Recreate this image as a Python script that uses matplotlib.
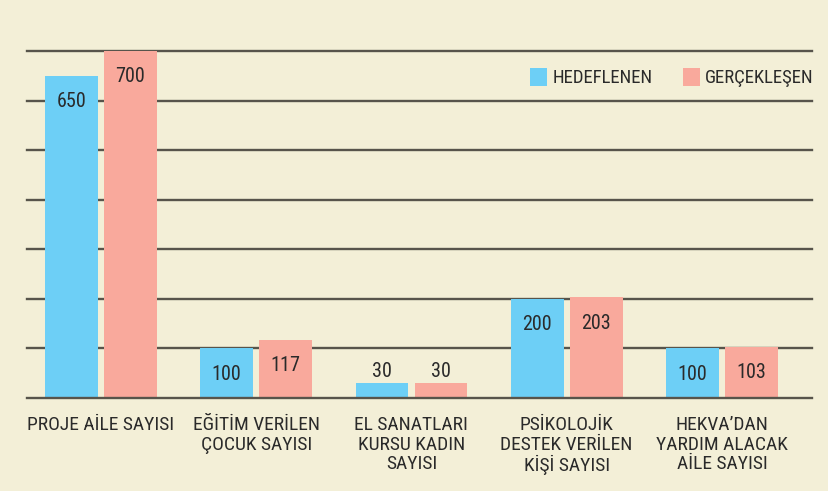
import matplotlib
matplotlib.use("Agg")
from matplotlib import pyplot as plt
from matplotlib import font_manager
import numpy as np

kategoriler = ["PROJE AİLE SAYISI",
               "EĞİTİM VERİLEN\nÇOCUK SAYISI",
               "EL SANATLARI\nKURSU KADIN\nSAYISI",
               "PSİKOLOJİK\nDESTEK VERİLEN\nKİŞİ SAYISI",
               "HEKVA’DAN\nYARDIM ALACAK\nAİLE SAYISI"]
hedeflenen = [650, 100, 30, 200, 100]
gerceklesen = [700, 117, 30, 203, 103]
seri_adlari = ["HEDEFLENEN", "GERÇEKLEŞEN"]

arka = "#f3efd7"
mavi = "#6dcff6"
pembe = "#f9a99c"
cizgi = "#57544b"
yazi = "#2a2a2a"

yuklu = {f.name for f in font_manager.fontManager.ttflist}
aile = "DejaVu Sans"
for ad in ["Liberation Sans Narrow", "Roboto Condensed", "DejaVu Sans Condensed",
           "Liberation Sans", "Roboto"]:
    if ad in yuklu:
        aile = ad
        break
plt.rcParams["font.family"] = [aile, "DejaVu Sans"]

fig = plt.figure(figsize=(8.29, 4.91), dpi=100, facecolor=arka)
ax = fig.add_axes([27 / 829, 1 - 398 / 491, (812 - 27) / 829, (398 - 51) / 491])
ax.set_facecolor(arka)

x = np.arange(len(kategoriler))
w = 0.34
off = 0.19
b1 = ax.bar(x - off, hedeflenen, w, color=mavi, zorder=3, label=seri_adlari[0])
b2 = ax.bar(x + off, gerceklesen, w, color=pembe, zorder=3, label=seri_adlari[1])

ax.set_xlim(-0.476, 4.58)
ax.set_ylim(0, 700)
for v in range(0, 701, 100):
    ax.axhline(v, color=cizgi, lw=1.7, zorder=2 if v > 0 else 4, clip_on=False)

for bars in (b1, b2):
    for b in bars:
        h = b.get_height()
        cx = b.get_x() + b.get_width() / 2
        if h >= 60:
            ax.text(cx, h - 52, str(int(h)), ha="center", va="center",
                    fontsize=14.5, color=yazi, zorder=5)
        else:
            ax.text(cx, h + 24, str(int(h)), ha="center", va="center",
                    fontsize=14.5, color=yazi, zorder=5)

for xi, k in zip(x, kategoriler):
    ax.text(xi, -37, k, ha="center", va="top", fontsize=14, color=yazi,
            linespacing=1.1)

for s in ax.spines.values():
    s.set_visible(False)
ax.set_xticks([])
ax.set_yticks([])

leg = ax.legend(loc="upper right", bbox_to_anchor=(1.024, 1.0), ncol=2,
                frameon=False, fontsize=13.5, handlelength=0.9, handleheight=1.1,
                handletextpad=0.3, columnspacing=1.6, labelcolor=yazi)

fig.savefig("out.png", dpi=100, facecolor=arka)
